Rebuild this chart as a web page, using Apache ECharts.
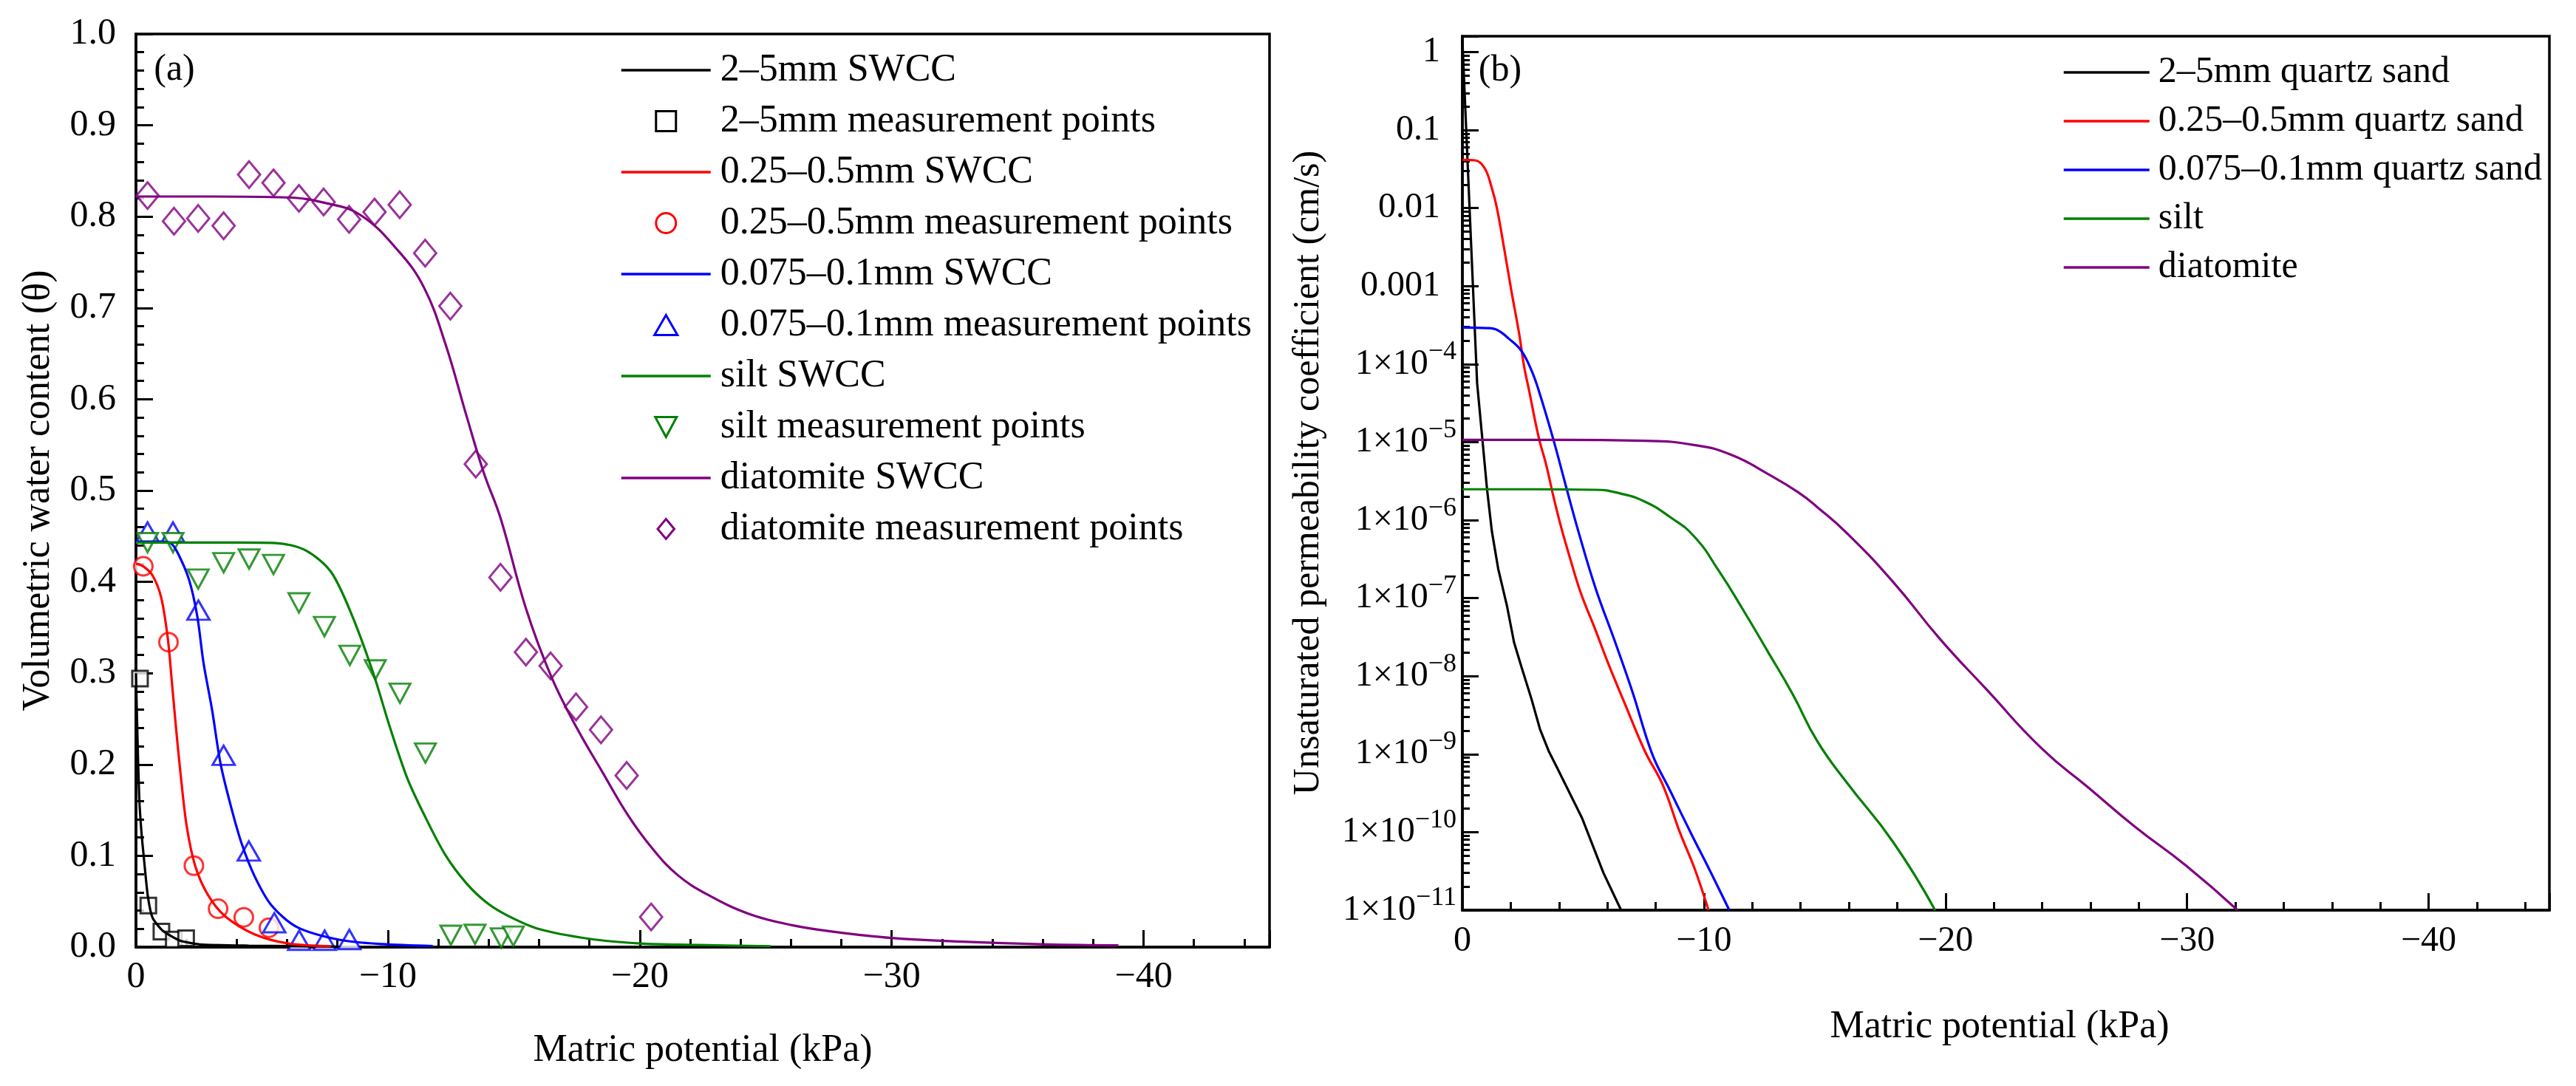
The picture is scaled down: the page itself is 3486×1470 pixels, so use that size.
<!DOCTYPE html>
<html>
<head>
<meta charset="utf-8">
<title>SWCC and unsaturated permeability</title>
<script src="https://cdn.jsdelivr.net/npm/echarts@6/dist/echarts.min.js"></script>
<style>
  html, body { margin: 0; padding: 0; background: #fff; }
  #chart { width: 3486px; height: 1470px; }
</style>
</head>
<body>
<div id="chart"></div>
<script>
// (a) soil-water characteristic curves: matric potential (kPa) -> volumetric water content
const coarseCurveX = [0, -0.05, -0.13, -0.22, -0.32, -0.47, -0.66, -1.06, -1.73, -2.52, -4.48, -8.0];
const coarseCurveY = [0.30, 0.24, 0.163, 0.125, 0.096, 0.056, 0.032, 0.018, 0.0073, 0.003, 0.0016, 0.0005];
const coarsePointX = [-0.16, -0.49, -1.01, -1.50, -1.99];
const coarsePointY = [0.294, 0.0455, 0.017, 0.0083, 0.0097];

const mediumCurveX = [0, -0.29, -0.66, -1.0, -1.26, -1.42, -1.59, -1.76, -2.01, -2.35, -2.85, -3.53, -4.71, -6.05, -7.74];
const mediumCurveY = [0.42, 0.417, 0.407, 0.383, 0.339, 0.292, 0.240, 0.1925, 0.133, 0.089, 0.0575, 0.034, 0.014, 0.004, 0.001];
const mediumPointX = [-0.29, -1.29, -2.30, -3.26, -4.28, -5.28];
const mediumPointY = [0.417, 0.334, 0.0892, 0.042, 0.0326, 0.0213];

const fineCurveX = [0, -0.5, -1.0, -1.4, -1.67, -2.1, -2.43, -2.68, -3.02, -3.36, -3.78, -4.2, -4.71, -5.38, -6.39, -8.07, -9.76, -11.78];
const fineCurveY = [0.444, 0.444, 0.444, 0.442, 0.431, 0.403, 0.363, 0.3115, 0.260, 0.2005, 0.153, 0.113, 0.0776, 0.0457, 0.022, 0.0081, 0.0033, 0.0012];
const finePointX = [-0.46, -1.47, -2.48, -3.48, -4.48, -5.49, -6.48, -7.49, -8.47];
const finePointY = [0.4545, 0.4545, 0.369, 0.210, 0.1053, 0.0267, 0.0075, 0.0075, 0.0083];

const siltCurveX = [0, -2, -4, -5.55, -6.73, -7.74, -8.58, -9.42, -10.09, -10.77, -11.44, -12.28, -13.13, -13.97, -14.81, -16.0, -18.0, -20.03, -22.0, -25.2];
const siltCurveY = [0.443, 0.443, 0.443, 0.4425, 0.4346, 0.411, 0.363, 0.300, 0.240, 0.185, 0.145, 0.101, 0.0695, 0.0477, 0.0337, 0.0198, 0.0091, 0.004, 0.0025, 0.001];
const siltPointX = [-0.46, -1.47, -2.47, -3.48, -4.49, -5.46, -6.47, -7.48, -8.49, -9.5, -10.48, -11.49, -12.5, -13.46, -14.5, -14.98];
const siltPointY = [0.443, 0.443, 0.403, 0.421, 0.425, 0.419, 0.377, 0.351, 0.3195, 0.3036, 0.278, 0.2125, 0.013, 0.014, 0.010, 0.012];

const diatomCurveX = [0, -3, -6, -7.5, -8.9, -10.43, -11.44, -12.28, -13.13, -13.8, -14.47, -15.48, -16.49, -17.5, -18.5, -19.52, -20.5, -21.5, -22.69, -24.37, -26.05, -27.74, -30.0, -32.8, -36.16, -39.0];
const diatomCurveY = [0.822, 0.822, 0.821, 0.815, 0.802, 0.762, 0.722, 0.661, 0.581, 0.520, 0.470, 0.371, 0.296, 0.240, 0.1925, 0.145, 0.108, 0.079, 0.0575, 0.036, 0.024, 0.0167, 0.010, 0.006, 0.003, 0.002];
const diatomPointX = [-0.46, -1.51, -2.47, -3.48, -4.49, -5.46, -6.47, -7.45, -8.46, -9.47, -10.47, -11.48, -12.48, -13.49, -14.47, -15.48, -16.46, -17.47, -18.46, -19.48, -20.45];
const diatomPointY = [0.823, 0.795, 0.798, 0.790, 0.846, 0.837, 0.820, 0.816, 0.797, 0.805, 0.813, 0.760, 0.702, 0.529, 0.405, 0.323, 0.308, 0.263, 0.238, 0.188, 0.033];

// (b) unsaturated permeability coefficient (cm/s)
const kCoarseX = [0, -0.31, -0.61, -0.82, -1.02, -1.22, -1.48, -1.84, -2.14, -2.45, -2.86, -3.21, -3.57, -3.91, -4.96, -5.84, -6.57];
const kCoarseY = [1.42, 8e-3, 5.7e-5, 1.15e-5, 2.5e-6, 7.2e-7, 2.4e-7, 8.1e-8, 2.7e-8, 1.3e-8, 5.1e-9, 2.1e-9, 1.1e-9, 6.8e-10, 1.5e-10, 3.0e-11, 1e-11];
const kMediumX = [0, -0.52, -0.92, -1.22, -1.43, -1.74, -2.04, -2.35, -2.55, -2.76, -3.16, -3.47, -3.77, -4.08, -4.49, -4.9, -5.51, -6.02, -6.73, -7.55, -8.3, -9.0, -9.6, -10.19];
const kMediumY = [0.0415, 0.041, 0.0326, 0.018, 0.01, 2.9e-3, 8.3e-4, 2.45e-4, 9.5e-5, 4.6e-5, 1.15e-5, 5.1e-6, 2.0e-6, 8.3e-7, 3.0e-7, 1.17e-7, 3.9e-8, 1.5e-8, 4.4e-9, 1.1e-9, 4e-10, 1e-10, 3.5e-11, 1e-11];
const kFineX = [0, -1.0, -1.43, -1.94, -2.45, -2.86, -3.16, -3.77, -4.29, -4.8, -5.51, -6.33, -7.04, -7.86, -8.6, -9.44, -10.25, -11.05];
const kFineY = [2.95e-4, 2.9e-4, 2.75e-4, 2.1e-4, 1.47e-4, 8.3e-5, 4.6e-5, 1.07e-5, 2.7e-6, 7.2e-7, 1.35e-7, 2.7e-8, 6.3e-9, 1.0e-9, 3.4e-10, 1e-10, 3.2e-11, 1e-11];
const kSiltX = [0, -3.0, -5.51, -6.53, -7.55, -8.57, -9.59, -10.61, -11.63, -12.65, -13.67, -14.69, -15.92, -17.84, -19.57];
const kSiltY = [2.49e-6, 2.49e-6, 2.45e-6, 2.2e-6, 1.73e-6, 1.11e-6, 6.2e-7, 2.25e-7, 7.0e-8, 2.05e-8, 5.9e-9, 1.47e-9, 4.3e-10, 7.4e-11, 1e-11];
const kDiatomX = [0, -4.0, -7.55, -9.59, -11.12, -12.65, -13.88, -14.69, -15.92, -17.84, -19.77, -21.69, -24.0, -25.93, -27.85, -29.97, -32.09];
const kDiatomY = [1.07e-5, 1.07e-5, 1.04e-5, 9.2e-6, 6.9e-6, 3.9e-6, 2.3e-6, 1.47e-6, 6.8e-7, 1.6e-7, 3.0e-8, 6.8e-9, 1.17e-9, 3.7e-10, 1.17e-10, 3.7e-11, 1e-11];

const namesA = ["2–5mm SWCC", "2–5mm measurement points", "0.25–0.5mm SWCC", "0.25–0.5mm measurement points",
  "0.075–0.1mm SWCC", "0.075–0.1mm measurement points", "silt SWCC", "silt measurement points",
  "diatomite SWCC", "diatomite measurement points"];
const namesB = ["2–5mm quartz sand", "0.25–0.5mm quartz sand", "0.075–0.1mm quartz sand", "silt", "diatomite"];
const colors = ["#000000", "#ff0000", "#0000ff", "#008000", "#800080"];

// outline shapes used for the marker entries of legend (a)
const markerIcons = [
  "path://M0,0H10V10H0Z",
  "circle",
  "path://M15,0L30,26H0Z",
  "path://M0,0H28L14,26Z",
  "path://M15,0L30,18L15,36L0,18Z"
];

const FONT = "Liberation Serif";
const MINUS = "\u2212";

// the x axes run on the magnitude so that ticks start at 0; labels put the minus sign back
function pairs(xs, ys) {
  return xs.map((x, i) => [-x, ys[i]]);
}

function potentialLabel(v) {
  if (v === 0) return "0";
  if (v % 10 !== 0) return "";
  return MINUS + v;
}

function kLabel(v) {
  const e = Math.round(Math.log10(v));
  if (Math.abs(v / Math.pow(10, e) - 1) > 1e-6) return "";
  if (e >= -3) return "{p|" + Math.pow(10, e).toFixed(Math.max(0, -e)) + "}";
  return "{b|1×10}{s|" + MINUS + (-e) + "}";
}

const tickLine = { color: "#000", width: 3 };

function potentialAxes(gridIndex, fontSize, margin) {
  return [
    {
      type: "value", gridIndex, min: 0, max: 45, interval: 10, position: "bottom",
      axisLine: { show: true, lineStyle: { color: "#000", width: 3.5 } },
      axisTick: { inside: true, length: 23, lineStyle: tickLine },
      axisLabel: { formatter: potentialLabel, color: "#000", fontFamily: FONT, fontSize, margin },
      splitLine: { show: false }
    },
    {
      type: "value", gridIndex, min: 0, max: 45, interval: 2, position: "bottom",
      axisLine: { show: false },
      axisTick: { inside: true, length: 11, lineStyle: tickLine },
      axisLabel: { show: false },
      splitLine: { show: false }
    }
  ];
}

function curve(name, xs, ys, color, xAxisIndex, yAxisIndex, smooth) {
  return {
    name, type: "line", xAxisIndex, yAxisIndex,
    data: pairs(xs, ys), symbol: "none", smooth,
    lineStyle: { color, width: 3.2 }, itemStyle: { color, opacity: 0 }
  };
}

function points(name, xs, ys, color, symbol, symbolSize, symbolRotate) {
  return {
    name, type: "scatter", xAxisIndex: 0, yAxisIndex: 0,
    data: pairs(xs, ys), symbol, symbolSize, symbolRotate: symbolRotate || 0,
    itemStyle: { color: "#ffffff", borderColor: color, borderWidth: 3 }
  };
}

// legend entries: plain line for the curves, hollow marker for the measured points
function lineItem(name, i) {
  return { name, itemStyle: { opacity: 0 }, lineStyle: { color: colors[i], width: 3.5 } };
}

function markerItem(name, i) {
  return {
    name, icon: markerIcons[i], symbolRotate: 0,
    itemStyle: { color: "#ffffff", borderColor: colors[i], borderWidth: 3, opacity: 1 }
  };
}

const legendA = namesA.map((n, k) => (k % 2 === 0 ? lineItem(n, k / 2) : markerItem(n, (k - 1) / 2)));
const legendB = namesB.map((n, k) => lineItem(n, k));

const chart = echarts.init(document.getElementById("chart"));

chart.setOption({
  animation: false,
  backgroundColor: "#ffffff",
  textStyle: { fontFamily: FONT, color: "#000" },
  grid: [
    { left: 184, top: 46, width: 1534, height: 1236, show: true, borderColor: "#000", borderWidth: 3.5, outerBoundsMode: "none" },
    { left: 1979, top: 49, width: 1471, height: 1183, show: true, borderColor: "#000", borderWidth: 3.5, outerBoundsMode: "none" }
  ],
  xAxis: [].concat(potentialAxes(0, 50, 16), potentialAxes(1, 48, 18)),
  yAxis: [
    {
      type: "value", gridIndex: 0, min: 0, max: 1, interval: 0.1,
      axisLine: { show: true, lineStyle: { color: "#000", width: 3.5 } },
      axisTick: { inside: true, length: 23, lineStyle: tickLine },
      minorTick: { show: true, splitNumber: 5, length: 11, lineStyle: tickLine },
      axisLabel: { formatter: (v) => v.toFixed(1), color: "#000", fontFamily: FONT, fontSize: 50, margin: 27 },
      splitLine: { show: false }
    },
    {
      type: "log", gridIndex: 1, logBase: 10, min: 1e-11, max: 1.6, interval: 1,
      axisLine: { show: true, lineStyle: { color: "#000", width: 3.5 } },
      axisTick: { inside: true, length: 22, lineStyle: tickLine },
      minorTick: { show: true, splitNumber: 9, length: 10, lineStyle: tickLine },
      axisLabel: {
        formatter: kLabel, color: "#000", fontFamily: FONT, fontSize: 48, margin: 8,
        rich: {
          p: { fontFamily: FONT, fontSize: 48, lineHeight: 48, padding: [0, 22, 0, 0], color: "#000" },
          b: { fontFamily: FONT, fontSize: 48, lineHeight: 48, verticalAlign: "middle", color: "#000" },
          s: { fontFamily: FONT, fontSize: 36, lineHeight: 36, padding: [0, 0, 32, 0], verticalAlign: "middle", color: "#000" }
        }
      },
      splitLine: { show: false }
    }
  ],
  legend: [
    {
      data: legendA, orient: "vertical", left: 834, top: 64, symbolKeepAspect: true,
      itemWidth: 121, itemHeight: 27, itemGap: 17, selectedMode: false,
      textStyle: { fontFamily: FONT, fontSize: 52, lineHeight: 52, color: "#000", padding: [0, 0, 0, 8] }
    },
    {
      data: legendB, orient: "vertical", left: 2786, top: 68, symbolKeepAspect: true,
      itemWidth: 116, itemHeight: 28, itemGap: 16, selectedMode: false,
      textStyle: { fontFamily: FONT, fontSize: 50, lineHeight: 50, color: "#000", padding: [0, 0, 0, 7] }
    }
  ],
  graphic: [
    { type: "text", x: 236, y: 95, style: { text: "(a)", fontFamily: FONT, fontSize: 50, fill: "#000", align: "center", verticalAlign: "middle" } },
    { type: "text", x: 2030, y: 96, style: { text: "(b)", fontFamily: FONT, fontSize: 50, fill: "#000", align: "center", verticalAlign: "middle" } },
    { type: "text", x: 52, y: 664, rotation: Math.PI / 2, style: { text: "Volumetric water content (θ)", fontFamily: FONT, fontSize: 52, fill: "#000", align: "center", verticalAlign: "middle" } },
    { type: "text", x: 1771, y: 640, rotation: Math.PI / 2, style: { text: "Unsaturated permeability coefficient (cm/s)", fontFamily: FONT, fontSize: 50, fill: "#000", align: "center", verticalAlign: "middle" } },
    { type: "text", x: 951, y: 1422, style: { text: "Matric potential (kPa)", fontFamily: FONT, fontSize: 52, fill: "#000", align: "center", verticalAlign: "middle" } },
    { type: "text", x: 2706, y: 1390, style: { text: "Matric potential (kPa)", fontFamily: FONT, fontSize: 52, fill: "#000", align: "center", verticalAlign: "middle" } }
  ],
  series: [
    curve(namesA[0], coarseCurveX, coarseCurveY, colors[0], 0, 0, 0.2),
    points(namesA[1], coarsePointX, coarsePointY, colors[0], "rect", 21),
    curve(namesA[2], mediumCurveX, mediumCurveY, colors[1], 0, 0, 0.3),
    points(namesA[3], mediumPointX, mediumPointY, colors[1], "circle", 25),
    curve(namesA[4], fineCurveX, fineCurveY, colors[2], 0, 0, 0.3),
    points(namesA[5], finePointX, finePointY, colors[2], "triangle", [30, 26]),
    curve(namesA[6], siltCurveX, siltCurveY, colors[3], 0, 0, 0.3),
    points(namesA[7], siltPointX, siltPointY, colors[3], "triangle", [28, 26], 180),
    curve(namesA[8], diatomCurveX, diatomCurveY, colors[4], 0, 0, 0.4),
    points(namesA[9], diatomPointX, diatomPointY, colors[4], "diamond", [30, 36]),

    curve(namesB[0], kCoarseX, kCoarseY, colors[0], 2, 1, false),
    curve(namesB[1], kMediumX, kMediumY, colors[1], 2, 1, 0.4),
    curve(namesB[2], kFineX, kFineY, colors[2], 2, 1, 0.4),
    curve(namesB[3], kSiltX, kSiltY, colors[3], 2, 1, 0.5),
    curve(namesB[4], kDiatomX, kDiatomY, colors[4], 2, 1, 0.5)
  ]
});
</script>
</body>
</html>
